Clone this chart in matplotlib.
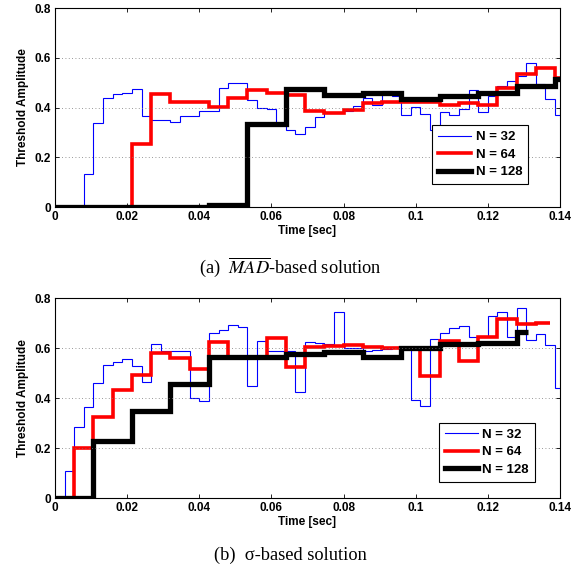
import numpy as np
import matplotlib.pyplot as plt

plt.rcParams['font.family'] = ['Liberation Sans', 'DejaVu Sans']
plt.rcParams['mathtext.fontset'] = 'stix'

# frame durations for the three window lengths
dt = {32: 32 / 12000, 64: 64 / 12000, 128: 128 / 12000}

# (a) MAD-based thresholds, one value per frame
mad_n32 = [0, 0, 0, 0.134, 0.336, 0.437, 0.454, 0.457, 0.473, 0.364,
           0.348, 0.348, 0.341, 0.364, 0.364, 0.387, 0.387, 0.477, 0.50, 0.50,
           0.43, 0.40, 0.394, 0.338, 0.31, 0.292, 0.32, 0.36, 0.38, 0.38,
           0.385, 0.405, 0.44, 0.41, 0.468, 0.445, 0.37, 0.403, 0.376, 0.31,
           0.383, 0.37, 0.396, 0.47, 0.383, 0.447, 0.485, 0.505, 0.525, 0.577,
           0.495, 0.435, 0.37]
mad_n64 = [0, 0, 0, 0, 0.255, 0.455, 0.422, 0.422, 0.402, 0.44,
           0.472, 0.46, 0.452, 0.385, 0.378, 0.39, 0.42, 0.422, 0.423, 0.423,
           0.412, 0.418, 0.412, 0.477, 0.534, 0.557, 0.52]
mad_n128 = [0, 0, 0, 0, 0.01, 0.332, 0.476, 0.452, 0.458, 0.434,
            0.447, 0.458, 0.485, 0.515]

# (b) sigma-based thresholds
sig_n32 = [0, 0.11, 0.284, 0.367, 0.46, 0.532, 0.545, 0.558, 0.529, 0.464,
           0.616, 0.591, 0.591, 0.591, 0.40, 0.39, 0.663, 0.675, 0.695, 0.687,
           0.448, 0.63, 0.59, 0.59, 0.59, 0.427, 0.625, 0.622, 0.617, 0.747,
           0.60, 0.60, 0.59, 0.595, 0.597, 0.604, 0.607, 0.393, 0.369, 0.638,
           0.663, 0.681, 0.69, 0.645, 0.645, 0.73, 0.744, 0.645, 0.76, 0.632,
           0.656, 0.615, 0.44]
sig_n64 = [0, 0.20, 0.324, 0.433, 0.493, 0.58, 0.562, 0.517, 0.627, 0.567,
           0.565, 0.643, 0.525, 0.607, 0.61, 0.615, 0.605, 0.60, 0.60, 0.49,
           0.63, 0.549, 0.645, 0.717, 0.697, 0.70]
sig_n128 = [0, 0.228, 0.35, 0.458, 0.566, 0.566, 0.578, 0.585, 0.565, 0.60,
            0.618, 0.622, 0.667]
# where the last step of each sigma curve stops
sig_end = {32: 0.1413, 64: 0.1373, 128: 0.1312}

styles = {32: dict(color='#0000ff', lw=0.8),
          64: dict(color='#ff0000', lw=2.6),
          128: dict(color='black', lw=3.8)}

fig = plt.figure(figsize=(5.81, 5.72), dpi=100)
ax_a = fig.add_axes([0.0947, 0.638, 0.869, 0.348])
ax_b = fig.add_axes([0.0947, 0.1288, 0.869, 0.3497])


def draw(ax, series, ends, leg_anchor):
    for n, vals in series.items():
        edges = np.append(np.arange(len(vals)) * dt[n], ends[n])
        ax.stairs(vals, edges, baseline=None, label=f'N = {n}', **styles[n])
    ax.set_xlim(0, 0.14)
    ax.set_ylim(0, 0.8)
    ax.set_xticks([0, 0.02, 0.04, 0.06, 0.08, 0.1, 0.12, 0.14])
    ax.set_xticklabels(['0', '0.02', '0.04', '0.06', '0.08', '0.1', '0.12', '0.14'])
    ax.set_yticks([0, 0.2, 0.4, 0.6, 0.8])
    ax.set_yticklabels(['0', '0.2', '0.4', '0.6', '0.8'])
    ax.tick_params(direction='in', top=True, right=True, length=3, width=0.6,
                   labelsize=8.5, pad=3)
    for lab in ax.get_xticklabels() + ax.get_yticklabels():
        lab.set_fontweight('bold')
    ax.grid(axis='y', linestyle=(0, (1, 3)), color='#777777', lw=0.6)
    for sp in ax.spines.values():
        sp.set_linewidth(0.8)
    ax.set_xlabel('Time [sec]', fontsize=8.5, fontweight='bold', labelpad=1)
    ax.set_ylabel('Threshold Amplitude', fontsize=8.5, fontweight='bold', labelpad=4)
    leg = ax.legend(loc='lower right', bbox_to_anchor=leg_anchor,
                    prop={'weight': 'bold', 'size': 9.5}, fancybox=False,
                    framealpha=1, edgecolor='black', handlelength=2.5,
                    handletextpad=0.35, labelspacing=0.4, borderpad=0.45,
                    borderaxespad=0)
    leg.get_frame().set_linewidth(0.8)


draw(ax_a, {32: mad_n32, 64: mad_n64, 128: mad_n128},
     {32: len(mad_n32) * dt[32], 64: len(mad_n64) * dt[64], 128: len(mad_n128) * dt[128]},
     (0.937, 0.115))
draw(ax_b, {32: sig_n32, 64: sig_n64, 128: sig_n128}, sig_end, (0.95, 0.083))

fig.text(0.5, 1 - 267 / 572, r'(a)  $\overline{MAD}$-based solution', ha='center',
         va='center', fontsize=13.2, family='Liberation Serif')
fig.text(0.5, 1 - 555 / 572, '(b)  σ-based solution', ha='center',
         va='center', fontsize=13.2, family='Liberation Serif')

fig.savefig('out.png', dpi=100)
